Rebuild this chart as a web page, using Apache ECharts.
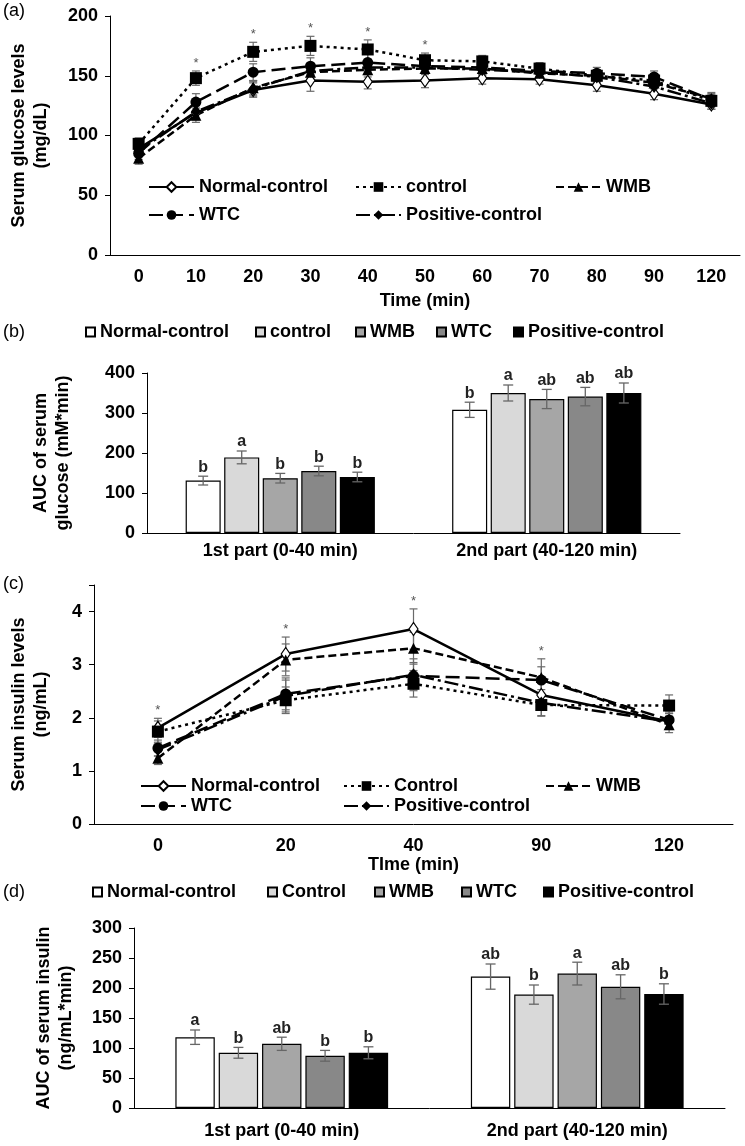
<!DOCTYPE html>
<html><head><meta charset="utf-8">
<script src="https://cdn.jsdelivr.net/npm/echarts@6/dist/echarts.min.js"></script>
<style>html,body{margin:0;padding:0;background:#fff}#c{width:745px;height:1146px}</style>
</head><body><div id="c"></div><script>
// ---------- DATA ----------
// (a) serum glucose (mg/dL)
const timeGlucose = ['0','10','20','30','40','50','60','70','80','90','120'];
const glucNormal  = [89,119,138,146,145,146,148,147,142,135,126];
const glucControl = [93,148,170,175,172,163,162,156,150,146,129];
const glucWMB     = [81,117,140,153,155,156,156,152,150,144,131];
const glucWTC     = [85,128,153,158,161,158,157,154,152,149,130];
const glucPos     = [87,120,139,154,157,157,155,153,149,141,127];
const glucNormalErr  = [5,6,6,9,6,6,5,4,5,5,4];
const glucControlErr = [5,6,8,8,8,6,5,5,5,5,5];
const glucWMBErr     = [5,6,6,6,6,5,5,5,5,5,5];
const glucWTCErr     = [5,7,7,7,7,6,6,5,5,5,5];
const glucPosErr     = [5,6,6,6,6,5,5,5,5,5,5];
const glucSigIdx = [1,2,3,4,5];

// (b) AUC of serum glucose
const partCats = ['1st part (0-40 min)','2nd part (40-120 min)'];
const aucGlucNormal  = [131,308];
const aucGlucControl = [189,350];
const aucGlucWMB     = [137,335];
const aucGlucWTC     = [155,341];
const aucGlucPos     = [140,350];
const aucGlucNormalErr  = [11,19];
const aucGlucControlErr = [16,20];
const aucGlucWMBErr     = [12,24];
const aucGlucWTCErr     = [12,23];
const aucGlucPosErr     = [12,25];
const aucGlucLetters = [['b','b'],['a','a'],['b','ab'],['b','ab'],['b','ab']];

// (c) serum insulin (ng/mL)
const timeInsulin = ['0','20','40','90','120'];
const insNormal  = [1.81,3.20,3.67,2.43,1.93];
const insControl = [1.74,2.33,2.64,2.24,2.23];
const insWMB     = [1.24,3.09,3.31,2.76,1.87];
const insWTC     = [1.43,2.45,2.79,2.71,1.96];
const insPos     = [1.40,2.41,2.81,2.28,1.93];
const insNormalErr  = [0.18,0.32,0.38,0.22,0.15];
const insControlErr = [0.20,0.25,0.25,0.20,0.20];
const insWMBErr     = [0.12,0.30,0.30,0.35,0.15];
const insWTCErr     = [0.15,0.30,0.25,0.25,0.15];
const insPosErr     = [0.12,0.30,0.30,0.25,0.15];
const insSigIdx = [0,1,2,3];

// (d) AUC of serum insulin
const aucInsNormal  = [118,219];
const aucInsControl = [92,189];
const aucInsWMB     = [107,224];
const aucInsWTC     = [87,202];
const aucInsPos     = [92,190];
const aucInsNormalErr  = [12,21];
const aucInsControlErr = [9,16];
const aucInsWMBErr     = [11,19];
const aucInsWTCErr     = [9,20];
const aucInsPosErr     = [10,17];
const aucInsLetters = [['a','ab'],['b','b'],['ab','a'],['b','ab'],['b','b']];

const glucAxis = [0,50,100,150,200];
const aucGlucAxis = [0,100,200,300,400];
const insAxis = [0,1,2,3,4];
const aucInsAxis = [0,50,100,150,200,250,300];

// ---------- STYLE ----------
const F = "'Liberation Sans', Arial, sans-serif";
const FS = 18;
const lineDefs = [
  {key:'Normal-control', symbol:'diamond', size:[9,13], fill:'#fff', dash:'solid'},
  {key:'control', symbol:'rect', size:12, fill:'#000', dash:[3,4]},
  {key:'WMB', symbol:'triangle', size:11, fill:'#000', dash:[8,4]},
  {key:'WTC', symbol:'circle', size:11, fill:'#000', dash:[14,6]},
  {key:'Positive-control', symbol:'diamond', size:[10,13], fill:'#000', dash:[14,4,3,4]}
];
const barColors = ['#ffffff','#d9d9d9','#a6a6a6','#888888','#000000'];

const series = [];
function errRender(params, api) {
  const x = api.value(0), v = api.value(1), e = api.value(2);
  const p1 = api.coord([x, v + e]), p2 = api.coord([x, v - e]);
  const w = 4, st = {stroke:'#6a6a6a', lineWidth:1.2};
  return {type:'group', children:[
    {type:'line', shape:{x1:p1[0],y1:p1[1],x2:p2[0],y2:p2[1]}, style:st},
    {type:'line', shape:{x1:p1[0]-w,y1:p1[1],x2:p1[0]+w,y2:p1[1]}, style:st},
    {type:'line', shape:{x1:p2[0]-w,y1:p2[1],x2:p2[0]+w,y2:p2[1]}, style:st}
  ]};
}
function starRender(params, api) {
  const p = api.coord([api.value(0), api.value(1)]);
  return {type:'text', style:{text:'*', x:p[0], y:p[1]-1, align:'center', verticalAlign:'bottom',
    fontSize:13, fontFamily:F, fill:'#555'}};
}
function addLinePanel(gi, suffix, names, vals, errs, sigIdx, sigMode) {
  vals.forEach((vArr, k) => {
    series.push({type:'custom', xAxisIndex:gi, yAxisIndex:gi, z:1, silent:true,
      renderItem: errRender, data: vArr.map((v,i)=>[i, v, errs[k][i]])});
  });
  vals.forEach((vArr, k) => {
    const d = lineDefs[k];
    series.push({type:'line', name: names[k] + suffix, xAxisIndex:gi, yAxisIndex:gi, z:3,
      data: vArr, symbol:d.symbol, symbolSize:d.size, showAllSymbol:true,
      lineStyle:{color:'#000', width:2.5, type:d.dash},
      itemStyle:{color:d.fill, borderColor:'#000', borderWidth:d.fill==='#fff'?1.2:0},
      emphasis:{disabled:true}});
  });
  const starData = sigIdx.map(i => {
    let top;
    if (sigMode === 'control') top = vals[1][i] + errs[1][i];
    else top = Math.max(...vals.map((a,k)=>a[i] + errs[k][i]));
    return [i, top];
  });
  series.push({type:'custom', xAxisIndex:gi, yAxisIndex:gi, z:4, silent:true, renderItem: starRender, data: starData});
}
function addBarPanel(gi, suffix, names, vals, errs, letters, catGap, barGap) {
  vals.forEach((vArr, k) => {
    series.push({type:'bar', name: names[k] + suffix, xAxisIndex:gi, yAxisIndex:gi, data: vArr,
      barCategoryGap: (catGap*100)+'%', barGap: (barGap*100)+'%',
      itemStyle:{color: barColors[k], borderColor:'#000', borderWidth:1.2}, emphasis:{disabled:true}});
  });
  vals.forEach((vArr, k) => {
    series.push({type:'custom', xAxisIndex:gi, yAxisIndex:gi, z:5, silent:true,
      data: vArr.map((v,i)=>[i, v, errs[k][i]]),
      renderItem: function(params, api) {
        const ci = api.value(0), v = api.value(1), e = api.value(2);
        const bandW = api.size([1,0])[0], n = 5;
        const bw = bandW * (1 - catGap) / (n + (n-1)*barGap);
        const total = bw*n + bw*barGap*(n-1);
        const off = -total/2 + k*bw*(1+barGap) + bw/2;
        const x = api.coord([ci, v])[0] + off;
        const yt = api.coord([ci, v+e])[1], yb = api.coord([ci, v-e])[1];
        const w = 5, st = {stroke:'#666', lineWidth:1.3};
        return {type:'group', children:[
          {type:'line', shape:{x1:x,y1:yt,x2:x,y2:yb}, style:st},
          {type:'line', shape:{x1:x-w,y1:yt,x2:x+w,y2:yt}, style:st},
          {type:'line', shape:{x1:x-w,y1:yb,x2:x+w,y2:yb}, style:st},
          {type:'text', style:{text: letters[k][params.dataIndex], x:x, y:yt-1, align:'center', verticalAlign:'bottom',
            fontSize:16, fontWeight:'bold', fontFamily:F, fill:'#222'}}
        ]};
      }});
  });
}

const namesA = ['Normal-control','control','WMB','WTC','Positive-control'];
const namesC = ['Normal-control','Control','WMB','WTC','Positive-control'];

addLinePanel(0, '|a', namesA, [glucNormal,glucControl,glucWMB,glucWTC,glucPos],
  [glucNormalErr,glucControlErr,glucWMBErr,glucWTCErr,glucPosErr], glucSigIdx, 'control');
addBarPanel(1, '|b', namesA, [aucGlucNormal,aucGlucControl,aucGlucWMB,aucGlucWTC,aucGlucPos],
  [aucGlucNormalErr,aucGlucControlErr,aucGlucWMBErr,aucGlucWTCErr,aucGlucPosErr], aucGlucLetters, 0.29, 0.1);
addLinePanel(2, '|c', namesC, [insNormal,insControl,insWMB,insWTC,insPos],
  [insNormalErr,insControlErr,insWMBErr,insWTCErr,insPosErr], insSigIdx, 'max');
addBarPanel(3, '|d', namesC, [aucInsNormal,aucInsControl,aucInsWMB,aucInsWTC,aucInsPos],
  [aucInsNormalErr,aucInsControlErr,aucInsWMBErr,aucInsWTCErr,aucInsPosErr], aucInsLetters, 0.28, 0.1);

// ---------- LAYOUT ----------
const grids = [
  {left:105, right:5,  top:16,  height:239},
  {left:147, right:65, top:373, height:160},
  {left:90,  right:12, top:585, height:239},
  {left:134, right:20, top:928, height:180}
];
const labelStyle = {fontSize:FS, fontWeight:'bold', fontFamily:F, color:'#000'};
const axisLine = {show:true, lineStyle:{color:'#000', width:1}};
const xAxes = [
  {gridIndex:0, type:'category', data:timeGlucose, name:'Time (min)', nameLocation:'middle', nameGap:37,
   nameTextStyle:labelStyle, axisLabel:Object.assign({margin:13, interval:0}, labelStyle), axisTick:{show:false}, axisLine},
  {gridIndex:1, type:'category', data:partCats, axisLabel:Object.assign({margin:9, interval:0}, labelStyle), axisTick:{show:false}, axisLine},
  {gridIndex:2, type:'category', data:timeInsulin, name:'TIme (min)', nameLocation:'middle', nameGap:32,
   nameTextStyle:labelStyle, axisLabel:Object.assign({margin:13, interval:0}, labelStyle), axisTick:{show:false}, axisLine},
  {gridIndex:3, type:'category', data:partCats, axisLabel:Object.assign({margin:14, interval:0}, labelStyle), axisTick:{show:false}, axisLine}
];
function yAx(gi, ticks, name, gap, extraMax) {
  const iv = ticks[1] - ticks[0];
  return {gridIndex:gi, type:'value', min:ticks[0], max: extraMax != null ? extraMax : ticks[ticks.length-1], interval:iv,
    name, nameLocation:'middle', nameRotate:90, nameGap:gap,
    nameTextStyle:{fontSize:FS, fontWeight:'bold', fontFamily:F, color:'#000', lineHeight:22},
    axisLabel:Object.assign({margin:12, formatter: v => ticks.includes(v) ? String(v) : ''}, labelStyle),
    axisTick:{show:true, length:5, lineStyle:{color:'#000'}}, axisLine, splitLine:{show:false}};
}
const yAxes = [
  yAx(0, glucAxis, 'Serum glucose levels\n(mg/dL)', 58),
  yAx(1, aucGlucAxis, 'AUC of serum\nglucose (mM*min)', 73),
  yAx(2, insAxis, 'Serum insulin levels\n(ng/mL)', 42, 4.5),
  yAx(3, aucInsAxis, 'AUC of serum insulin\n(ng/mL*min)', 57)
];

// legends: one component per item for exact placement
const legendText = {fontSize:FS, fontWeight:'bold', fontFamily:F, color:'#000', lineHeight:20};
const legends = [];
function addLegend(name, left, cy, isBar) {
  const l = {left, top: cy - 10, data:[name], selectedMode:false, padding:0,
    formatter: n => n.split('|')[0], textStyle: legendText};
  if (isBar) { l.icon = 'rect'; l.itemWidth = 9; l.itemHeight = 9; l.itemGap = 4; }
  else { l.itemWidth = 45; l.itemHeight = 12; }
  legends.push(l);
}
const posA = [[148,187],[355,187],[555,187],[148,215],[355,215]];
namesA.forEach((n,k)=>addLegend(n+'|a', posA[k][0], posA[k][1], false));
const posB = [[85,332],[255,332],[355,332],[436,332],[513,332]];
namesA.forEach((n,k)=>addLegend(n+'|b', posB[k][0], posB[k][1], true));
const posC = [[140,786],[343,786],[545,786],[140,806],[343,806]];
namesC.forEach((n,k)=>addLegend(n+'|c', posC[k][0], posC[k][1], false));
const posD = [[92,892],[267,892],[374,892],[461,892],[543,892]];
namesC.forEach((n,k)=>addLegend(n+'|d', posD[k][0], posD[k][1], true));

const panelLabel = (t, top) => ({type:'text', left:3, top, style:{text:t, fontSize:18, fontFamily:F, fill:'#000'}});

const chart = echarts.init(document.getElementById('c'), null, {renderer:'canvas'});
chart.setOption({
  animation:false,
  backgroundColor:'#fff',
  grid: grids,
  xAxis: xAxes,
  yAxis: yAxes,
  legend: legends,
  graphic: [panelLabel('(a)',2), panelLabel('(b)',323), panelLabel('(c)',575), panelLabel('(d)',883)],
  series
});
</script></body></html>
